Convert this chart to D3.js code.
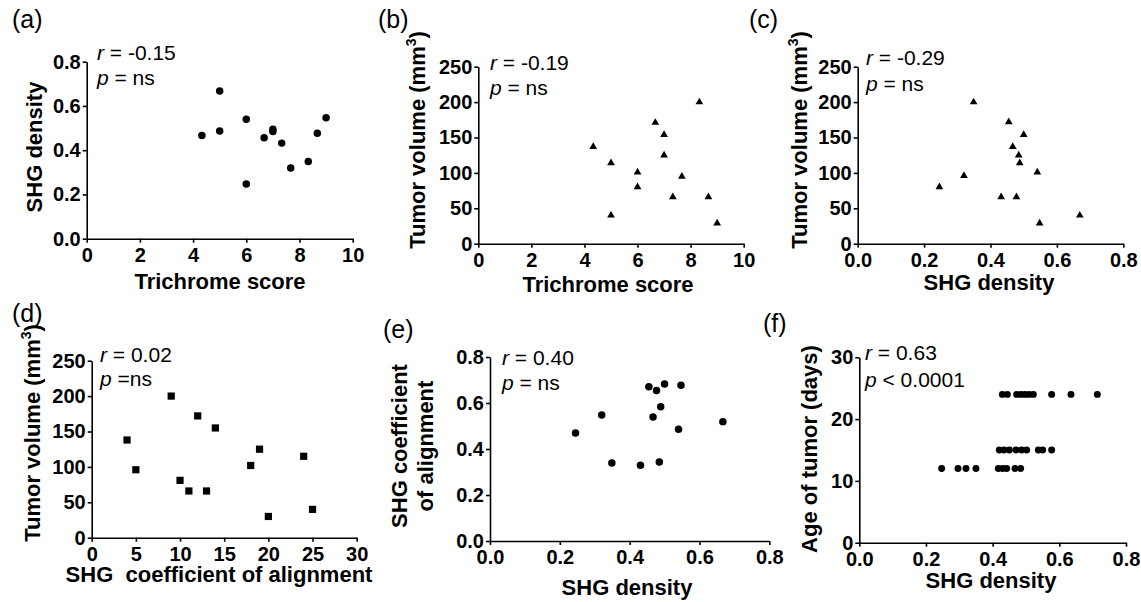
<!DOCTYPE html>
<html><head><meta charset="utf-8">
<script src="https://cdn.jsdelivr.net/npm/d3@7"></script>
<style>
body{margin:0;background:#fff}
svg text{font-family:Arial,"Liberation Sans",sans-serif;fill:#000}
</style>
</head><body>
<svg id="chart" width="1141" height="602"></svg>
<script>
// ---------- data ----------
// (a) SHG density vs Trichrome score
const trichromeA = [4.33,5,5,6,6,6.67,7,7,7.33,7.67,8.33,8.67,9];
const shgA = [0.466,0.668,0.487,0.54,0.247,0.456,0.495,0.484,0.432,0.32,0.349,0.477,0.547];
// (b) Tumor volume vs Trichrome score
const trichromeB = [4.33,5,5,6,6,6.67,7,7,7.33,7.67,8.33,8.67,9];
const tumorB = [137,114,40,101,80,171,154,125,66,95,200,66,29];
// (c) Tumor volume vs SHG density
const shgC = [0.246,0.32,0.349,0.432,0.455,0.467,0.478,0.485,0.488,0.50,0.541,0.548,0.669];
const tumorC = [80,96,200,66,172,137,66,125,114,154,101,29,40];
// (d) Tumor volume vs SHG coefficient of alignment
const alignD = [4,5,9,10,11,12,13,14,18,19,20,24,25];
const tumorD = [138,96,200,81,66,172,66,155,102,125,30,115,40];
// (e) SHG coefficient of alignment vs SHG density
const shgE = [0.245,0.32,0.349,0.431,0.455,0.467,0.477,0.485,0.489,0.50,0.54,0.547,0.667];
const alignE = [0.47,0.548,0.339,0.329,0.671,0.539,0.654,0.343,0.584,0.683,0.486,0.677,0.519];
// (f) Age of tumor vs SHG density
const shgF24 = [0.429,0.444,0.472,0.485,0.497,0.509,0.522,0.577,0.635,0.714];
const shgF15 = [0.42,0.434,0.45,0.47,0.487,0.502,0.537,0.55,0.577];
const shgF12 = [0.247,0.296,0.32,0.35,0.417,0.43,0.442,0.467,0.484];
const ageF = [24,15,12];

// tick labels
const ticksTrichrome = [0,2,4,6,8,10];
const ticksDensity = [0,0.2,0.4,0.6,0.8];
const ticksVolume = [0,50,100,150,200,250];
const ticksAlign = [0,5,10,15,20,25,30];
const ticksAge = [0,10,20,30];

// panel annotations
const labels = ["(a)","(b)","(c)","(d)","(e)","(f)"];
const rValues = ["-0.15","-0.19","-0.29","0.02","0.40","0.63"];
const pValues = [" = ns"," = ns"," = ns"," =ns"," = ns"," < 0.0001"];

const zip = (a,b) => a.map((v,i)=>[v,b[i]]);
const ptsF = [].concat(
  shgF24.map(v=>[v,ageF[0]]),
  shgF15.map(v=>[v,ageF[1]]),
  shgF12.map(v=>[v,ageF[2]])
);

const svg = d3.select("#chart");
const f1 = d3.format(".1f"), fd = d3.format("d");

function panel(o){
  const x = d3.scaleLinear().domain(o.xDomain).range([o.x0,o.x1]);
  const y = d3.scaleLinear().domain(o.yDomain).range([o.y0,o.y1]);
  const g = svg.append("g");
  const xa = g.append("g").attr("transform",`translate(0,${o.y0})`)
    .call(d3.axisBottom(x).tickValues(o.xTicks).tickFormat(o.xFmt).tickSize(4).tickSizeOuter(0).tickPadding(5));
  const ya = g.append("g").attr("transform",`translate(${o.x0},0)`)
    .call(d3.axisLeft(y).tickValues(o.yTicks).tickFormat(o.yFmt).tickSize(4).tickSizeOuter(0).tickPadding(2));
  [xa,ya].forEach(a=>{
    a.select(".domain").attr("stroke","#000").attr("stroke-width",1.6);
    a.selectAll(".tick line").attr("stroke","#000").attr("stroke-width",1.6);
    a.selectAll(".tick text").attr("font-size",20).attr("font-weight","bold")
      .style("font-family",'Arial,"Liberation Sans",sans-serif').attr("fill","#000");
  });
  // markers
  const sym = d3.symbol().type(o.sym).size(o.size);
  g.append("g").selectAll("path").data(o.pts).join("path")
    .attr("d",sym).attr("fill","#000")
    .attr("transform",d=>`translate(${x(d[0])},${y(d[1])})`);
  // panel label
  g.append("text").attr("x",o.lab[0]).attr("y",o.lab[1]).attr("font-size",25).text(labels[o.i]);
  // annotations
  const t1 = g.append("text").attr("x",o.ann[0]).attr("y",o.ann[1]).attr("font-size",21);
  t1.append("tspan").attr("font-style","italic").text("r");
  t1.append("tspan").text(" = "+rValues[o.i]);
  const t2 = g.append("text").attr("x",o.ann[0]).attr("y",o.ann[2]).attr("font-size",21);
  t2.append("tspan").attr("font-style","italic").text("p");
  t2.append("tspan").text(pValues[o.i]);
  // x title
  g.append("text").attr("x",o.xt[0]).attr("y",o.xt[1]).attr("text-anchor","middle")
    .attr("font-size",22).attr("font-weight","bold").text(o.xTitle);
  // y title
  o.yTitle.forEach((line,k)=>{
    const t = g.append("text").attr("text-anchor","middle").attr("font-size",22).attr("font-weight","bold")
      .attr("transform",`translate(${o.yt[0][k]},${o.yt[1]}) rotate(-90)`);
    if(line==="VOL"){
      t.append("tspan").text("Tumor volume (mm");
      t.append("tspan").attr("font-size",14).attr("dy",-9).text("3");
      t.append("tspan").attr("dy",9).text(")");
    } else t.text(line);
  });
}

panel({i:0,x0:86.7,x1:352.7,y0:238.7,y1:61.7,xDomain:[0,10],yDomain:[0,0.8],
  xTicks:ticksTrichrome,xFmt:fd,yTicks:ticksDensity,yFmt:f1,
  pts:zip(trichromeA,shgA),sym:d3.symbolCircle,size:44,
  lab:[12,28],ann:[97,59.5,85],xt:[220,289],xTitle:"Trichrome score",
  yt:[[41.5],147],yTitle:["SHG density"]});

panel({i:1,x0:478.3,x1:743.7,y0:243.7,y1:66.7,xDomain:[0,10],yDomain:[0,250],
  xTicks:ticksTrichrome,xFmt:fd,yTicks:ticksVolume,yFmt:fd,
  pts:zip(trichromeB,tumorB),sym:d3.symbolTriangle,size:26,
  lab:[378,28],ann:[490,70,95],xt:[608,292],xTitle:"Trichrome score",
  yt:[[425],140],yTitle:["VOL"]});

panel({i:2,x0:857.7,x1:1123.3,y0:243.7,y1:66.7,xDomain:[0,0.8],yDomain:[0,250],
  xTicks:ticksDensity,xFmt:f1,yTicks:ticksVolume,yFmt:fd,
  pts:zip(shgC,tumorC),sym:d3.symbolTriangle,size:26,
  lab:[749,28],ann:[866,65,90.7],xt:[989,290],xTitle:"SHG density",
  yt:[[806.7],140],yTitle:["VOL"]});

panel({i:3,x0:91.7,x1:356.7,y0:537.7,y1:360.7,xDomain:[0,30],yDomain:[0,250],
  xTicks:ticksAlign,xFmt:fd,yTicks:ticksVolume,yFmt:fd,
  pts:zip(alignD,tumorD),sym:d3.symbolSquare,size:52,
  lab:[12,321.7],ann:[100,361.7,385.7],xt:[219,581.7],xTitle:"SHG\u00a0\u00a0coefficient of alignment",
  yt:[[40],433],yTitle:["VOL"]});

panel({i:4,x0:490,x1:769.3,y0:541,y1:357,xDomain:[0,0.8],yDomain:[0,0.8],
  xTicks:ticksDensity,xFmt:f1,yTicks:ticksDensity,yFmt:f1,
  pts:zip(shgE,alignE),sym:d3.symbolCircle,size:44,
  lab:[383,338],ann:[502,365,390],xt:[627,595],xTitle:"SHG density",
  yt:[[407.3,433.3],446],yTitle:["SHG coefficient","of alignment"]});

panel({i:5,x0:859.3,x1:1126,y0:542.7,y1:357.3,xDomain:[0,0.8],yDomain:[0,30],
  xTicks:ticksDensity,xFmt:f1,yTicks:ticksAge,yFmt:fd,
  pts:ptsF,sym:d3.symbolCircle,size:38,
  lab:[763,331.7],ann:[865,360,386.7],xt:[991,588],xTitle:"SHG density",
  yt:[[816.7],449],yTitle:["Age of tumor (days)"]});
</script>
</body></html>
